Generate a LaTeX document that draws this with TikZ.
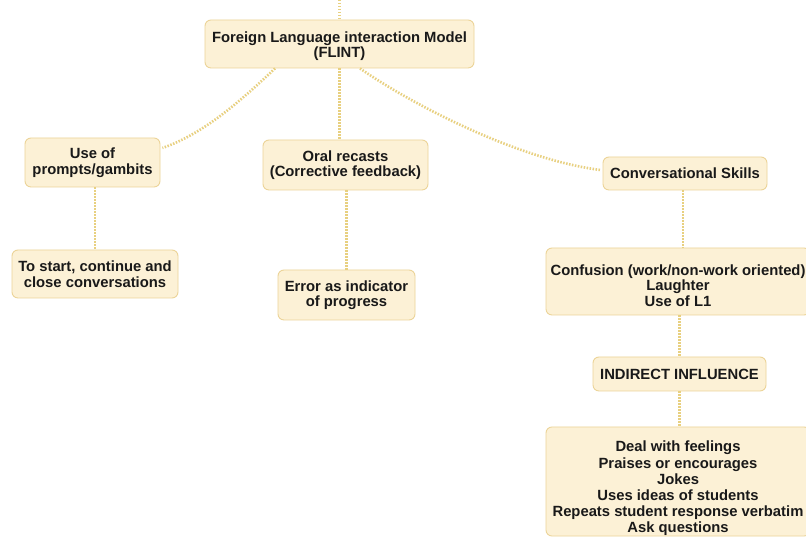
\documentclass[tikz,border=0pt]{standalone}
\usepackage{fontspec}
\setmainfont{Liberation Sans}
\usetikzlibrary{calc}
\definecolor{boxfill}{RGB}{252,241,214}
\definecolor{boxline}{RGB}{236,212,152}
\definecolor{linkcol}{RGB}{232,208,128}
\definecolor{txt}{RGB}{25,25,25}
\newcommand{\lowerby}[1]{\rule{0pt}{#1}}
\tikzset{
  box/.style={draw=boxline, fill=boxfill, line width=0.9pt, rounded corners=6pt,
    inner sep=0pt, align=center, text=txt,
    font=\fontsize{14.8}{15.5}\selectfont\bfseries},
  link/.style={draw=linkcol, line width=2.6pt, dash pattern=on 1.5pt off 1.5pt}
}
\begin{document}
\begin{tikzpicture}[x=1pt,y=1pt]
\useasboundingbox (0,0) rectangle (806,545);
\clip (0,0) rectangle (806,545);
\fill[white] (0,0) rectangle (806,545);
\coordinate (topin) at (339.5,545);
\node[box, minimum width=269, minimum height=48] (top) at (339.5,501) {\lowerby{15pt}Foreign Language interaction Model\\(FLINT)};
\node[box, minimum width=135, minimum height=49] (prompts) at (92.5,382.5) {Use of\\prompts/gambits};
\node[box, minimum width=165, minimum height=50] (oral) at (345.5,380) {Oral recasts\\(Corrective feedback)};
\node[box, minimum width=164, minimum height=33] (conv) at (685,371.5) {Conversational Skills};
\node[box, minimum width=166, minimum height=48] (tostart) at (95,271) {To start, continue and\\close conversations};
\node[box, minimum width=137, minimum height=50] (error) at (346.5,250) {Error as indicator\\of progress};
\node[box, minimum width=264, minimum height=67] (confusion) at (678,263.5) {\lowerby{19pt}Confusion (work/non-work oriented)\\Laughter\\Use of L1};
\node[box, minimum width=173, minimum height=34] (indirect) at (679.5,171) {INDIRECT INFLUENCE};
\node[box, minimum width=264, minimum height=107, font=\fontsize{14.8}{16.2}\selectfont\bfseries] (bottom) at (678,63.5) {\lowerby{25pt}Deal with feelings\\Praises or encourages\\Jokes\\Uses ideas of students\\Repeats student response verbatim\\Ask questions};
% connectors
\draw[link] (topin) -- (top.north);
\draw[link] ([xshift=-64.5]top.south) .. controls +(-38,-36) and +(40,14) .. ([xshift=2,yshift=14.5]prompts.east);
\draw[link] ([xshift=20.5]top.south) .. controls +(55,-38) and +(-80,10) .. ([xshift=-2,yshift=3.5]conv.west);
\draw[link] (top.south) -- (top.south |- oral.north);
\draw[link] (tostart.north |- prompts.south) -- (tostart.north);
\draw[link] (error.north |- oral.south) -- (error.north);
\draw[link] ([xshift=-2]conv.south) -- ([xshift=-2]conv.south |- confusion.north);
\draw[link] (indirect.north |- confusion.south) -- (indirect.north);
\draw[link] (indirect.south) -- (indirect.south |- bottom.north);
\end{tikzpicture}
\end{document}
